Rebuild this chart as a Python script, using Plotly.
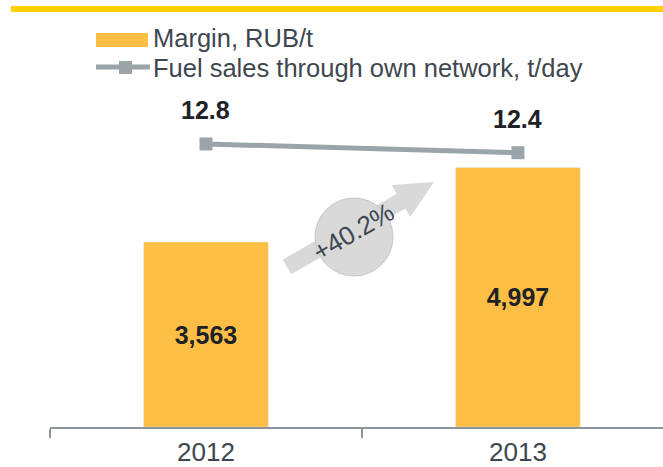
import math
import plotly.graph_objects as go

# ---- data ----
years = ["2012", "2013"]
margin_rub_t = [3563, 4997]
fuel_sales_t_day = [12.8, 12.4]
growth_label = "+40.2%"
legend_names = ["Margin, RUB/t", "Fuel sales through own network, t/day"]

# ---- style ----
W, H = 663, 467
ML, MR, MT, MB = 50, 0, 20, 40
PW, PH = W - ML - MR, H - MT - MB
ORANGE = "#FDBE45"
GREY_LINE = "#9AA4A9"
AXIS = "#8E9498"
TXT = "#3E474F"
DARK = "#1E2226"
FONT = "Arial, Liberation Sans, sans-serif"


def px(x):
    return (x - ML) / PW


def py(y):
    return (H - MB - y) / PH


fig = go.Figure()
fig.add_trace(go.Bar(
    x=years, y=margin_rub_t, name=legend_names[0], marker_color=ORANGE,
    width=0.4, texttemplate="%{y:,}", textposition="inside",
    insidetextanchor="middle", textangle=0,
    textfont=dict(family=FONT, size=25, color=DARK, weight="bold"),
    showlegend=False, hoverinfo="skip",
))
fig.add_trace(go.Scatter(
    x=years, y=fuel_sales_t_day, name=legend_names[1], yaxis="y2",
    mode="lines+markers", line=dict(color=GREY_LINE, width=5),
    marker=dict(symbol="square", size=13, color=GREY_LINE),
    showlegend=False, hoverinfo="skip",
))

annotations = []
for i, yv in enumerate(fuel_sales_t_day):
    annotations.append(dict(
        x=i, y=yv, xref="x", yref="y2", text=f"{yv}", showarrow=False,
        yshift=34, font=dict(family=FONT, size=25, color=DARK, weight="bold"),
    ))

# custom legend
shapes = [
    # top yellow rule
    dict(type="rect", xref="paper", yref="paper", x0=px(11), x1=px(663),
         y0=py(12), y1=py(6), fillcolor="#FFD200", line_width=0, layer="above"),
    dict(type="rect", xref="paper", yref="paper", x0=px(96), x1=px(148),
         y0=py(47), y1=py(33), fillcolor=ORANGE, line_width=0),
    dict(type="line", xref="paper", yref="paper", x0=px(96), x1=px(150),
         y0=py(67), y1=py(67), line=dict(color=GREY_LINE, width=5)),
    dict(type="rect", xref="paper", yref="paper", x0=px(119), x1=px(132),
         y0=py(74), y1=py(61), fillcolor=GREY_LINE, line_width=0),
]
annotations.append(dict(x=px(151), y=py(38.5), xref="paper", yref="paper",
                        xanchor="left", yanchor="middle", showarrow=False,
                        text=legend_names[0], font=dict(family=FONT, size=25.5, color=TXT)))
annotations.append(dict(x=px(151), y=py(67.5), xref="paper", yref="paper",
                        xanchor="left", yanchor="middle", showarrow=False,
                        text=legend_names[1], font=dict(family=FONT, size=25.5, color=TXT)))

# growth arrow (decoration)
tail = (287, 267)
tip = (434, 182)
dx, dy = tip[0] - tail[0], tail[1] - tip[1]
L = math.hypot(dx, dy)
c, s = dx / L, dy / L
hw, hl, hh = 8.5, 38, 18.5
local = [(0, -hw), (L - hl, -hw), (L - hl, -hh), (L, 0), (L - hl, hh), (L - hl, hw), (0, hw)]
pts = [(u * c - v * s, u * s + v * c) for u, v in local]
path = "M " + " L ".join(f"{a:.2f},{b:.2f}" for a, b in pts) + " Z"
shapes.append(dict(type="path", xref="paper", yref="paper", xsizemode="pixel",
                   ysizemode="pixel", xanchor=px(tail[0]), yanchor=py(tail[1]),
                   path=path, fillcolor="#D9D9D9", line_width=0, layer="above"))
cx, cy, r = 354, 237, 39
shapes.append(dict(type="circle", xref="paper", yref="paper", xsizemode="pixel",
                   ysizemode="pixel", xanchor=px(cx), yanchor=py(cy),
                   x0=-r, x1=r, y0=-r, y1=r, fillcolor="#D9D9D9",
                   line=dict(color="#C6C6C6", width=1), layer="above"))
annotations.append(dict(x=px(353), y=py(232), xref="paper", yref="paper",
                        showarrow=False, text=growth_label, textangle=-30,
                        font=dict(family=FONT, size=26, color=TXT)))

fig.update_layout(
    width=W, height=H, margin=dict(l=ML, r=MR, t=MT, b=MB, autoexpand=False),
    paper_bgcolor="white", plot_bgcolor="white", showlegend=False,
    hovermode=False,
    xaxis=dict(type="category", range=[-0.5, 1.465], tickson="boundaries",
               ticks="outside", ticklen=9, tickwidth=2, tickcolor=AXIS,
               ticklabelstandoff=1, automargin=False,
               showline=True, linecolor=AXIS, linewidth=2, showgrid=False,
               zeroline=False, tickfont=dict(family=FONT, size=26, color=TXT)),
    yaxis=dict(range=[0, 7840], visible=False, showgrid=False, automargin=False),
    yaxis2=dict(range=[-0.21, 18.5], overlaying="y", visible=False, showgrid=False,
                automargin=False),
    shapes=shapes, annotations=annotations,
)

fig.write_html(
    "out.html",
    config={"displayModeBar": False, "staticPlot": True},
    post_script="document.body.style.margin='0';document.body.style.overflow='hidden';",
)
